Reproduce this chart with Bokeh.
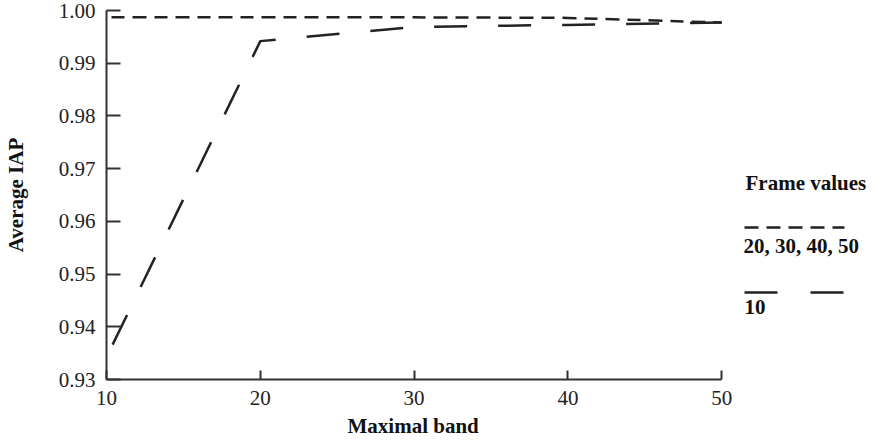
from bokeh.plotting import figure
from bokeh.models import FixedTicker, NumeralTickFormatter, Label, Arrow, Range1d, Title
from bokeh.embed import file_html
from bokeh.resources import INLINE

# ---- data ----
maximal_band = [10, 20, 30, 40, 50]
iap_frames_20_50 = [0.9987, 0.9987, 0.9987, 0.9986, 0.9977]
iap_frame_10 = [0.93423, 0.99419, 0.99689, 0.99727, 0.99774]
x_ticks = [10, 20, 30, 40, 50]
y_ticks = [0.93, 0.94, 0.95, 0.96, 0.97, 0.98, 0.99, 1.00]
x_label = "Maximal band"
y_label = "Average IAP"
legend_title = "Frame values"
legend_labels = ["20, 30, 40, 50", "10"]

SERIF = "Liberation Serif"
FS = "21px"
LINE = "#222222"
AXIS = "#333333"

# frame spans to the right edge so that the legend (drawn in screen units) is visible;
# the x axis itself is bounded to 10..50
FRAME_L, FRAME_R_DATA = 105, 721
px_per_unit = (FRAME_R_DATA - FRAME_L) / (50 - 10)
x_end = 50 + (876 - FRAME_R_DATA) / px_per_unit

p = figure(width=876, height=441, output_backend="svg", toolbar_location=None,
           x_range=Range1d(10, x_end), y_range=Range1d(0.93, 1.00),
           min_border_left=FRAME_L, min_border_right=0, min_border_top=10,
           min_border_bottom=62)
p.outline_line_color = None
p.xgrid.visible = False
p.ygrid.visible = False
p.background_fill_color = "white"
p.border_fill_color = "white"

p.line(maximal_band, iap_frames_20_50, line_color=LINE, line_width=2.5,
       line_dash="13 8 14 8", line_dash_offset=38)
p.line(maximal_band, iap_frame_10, line_color=LINE, line_width=2.5,
       line_dash="33 31", line_dash_offset=50)

for ax in (p.xaxis[0], p.yaxis[0]):
    ax.axis_line_color = AXIS
    ax.axis_line_width = 2
    ax.major_tick_line_color = AXIS
    ax.major_tick_line_width = 2
    ax.major_tick_out = 0
    ax.minor_tick_line_color = None
    ax.major_label_text_font = SERIF
    ax.major_label_text_font_size = FS
    ax.major_label_text_color = "#222222"
    ax.axis_label_text_font = SERIF
    ax.axis_label_text_font_size = FS
    ax.axis_label_text_font_style = "bold"
    ax.axis_label_text_color = "#111111"

p.xaxis[0].bounds = (10, 50)
p.xaxis[0].ticker = FixedTicker(ticks=x_ticks)
p.yaxis[0].ticker = FixedTicker(ticks=y_ticks)
p.yaxis[0].formatter = NumeralTickFormatter(format="0.00")
p.xaxis[0].major_tick_in = 9
p.yaxis[0].major_tick_in = 14
p.xaxis[0].major_label_standoff = 11
p.yaxis[0].major_label_standoff = 11
p.yaxis[0].axis_label = y_label
p.yaxis[0].axis_label_standoff = 28

# x-axis title centred under the bounded axis (10..50), not under the whole frame
p.add_layout(Title(text=x_label, align="left", offset=241, standoff=8,
                   text_font=SERIF, text_font_size=FS, text_font_style="bold",
                   text_color="#111111"), "below")

# ---- legend (screen units relative to the frame: left=105, bottom=379) ----
FB = 379
def sx(cx):
    return cx - FRAME_L
def sy(cy):
    return FB - cy

def legend_text(cx, cy, txt):
    p.add_layout(Label(x=sx(cx), y=sy(cy), x_units="screen", y_units="screen",
                       text=txt, text_font=SERIF, text_font_size=FS,
                       text_font_style="bold", text_color="#111111",
                       text_baseline="alphabetic"))

def legend_line(cx0, cx1, cy, dash):
    p.add_layout(Arrow(end=None, x_start=sx(cx0), y_start=sy(cy), x_end=sx(cx1), y_end=sy(cy),
                       start_units="screen", end_units="screen",
                       line_color=LINE, line_width=2.5, line_dash=dash))

legend_text(744, 182, legend_title)
legend_line(743, 843, 227, "14 8")
legend_text(742, 245, legend_labels[0])
legend_line(743, 842, 292, "33 33")
legend_text(743, 306, legend_labels[1])

open("out.html", "w").write(file_html(p, INLINE))
